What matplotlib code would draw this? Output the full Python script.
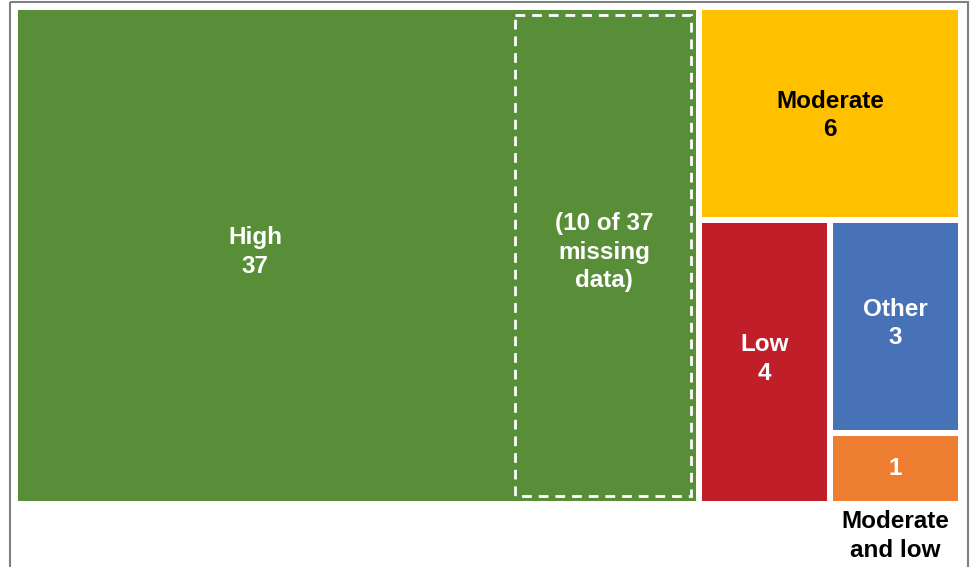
import matplotlib.pyplot as plt
from matplotlib.patches import Rectangle

# data
labels = ["High", "Moderate", "Low", "Other", "Moderate and low"]
values = [37, 6, 4, 3, 1]
colors = ["#588E38", "#FFC000", "#C01F29", "#4872B8", "#ED7D31"]
missing_high = 10

W, H = 972, 567
fig = plt.figure(figsize=(W / 100, H / 100), dpi=100)
ax = fig.add_axes([0, 0, 1, 1])
ax.set_xlim(0, W)
ax.set_ylim(H, 0)
ax.axis("off")

plt.rcParams['font.family'] = ['Liberation Sans', 'DejaVu Sans']

# outer frame
ax.add_patch(Rectangle((10, 2), 958, 600, fill=False, edgecolor="#7f7f7f", lw=1.5))

# treemap bounds (pixels) and gap
x0, x1, y0, y1 = 14, 961, 7, 504
pad = 3
total = sum(values)

# slice-and-dice layout matching the reference arrangement
rects = {}
xs = x0 + (x1 - x0) * values[0] / total - 2
rects["High"] = (x0 + 1, y0, xs, y1)
rest = total - values[0]
ym = y0 + (y1 - y0) * values[1] / rest
rects["Moderate"] = (xs, y0, x1, ym)
rest2 = rest - values[1]
xm = xs + (x1 - xs) * values[2] / rest2
rects["Low"] = (xs, ym, xm, y1)
rest3 = rest2 - values[2]
yo = ym + (y1 - ym) * values[3] / rest3
rects["Other"] = (xm, ym, x1, yo)
rects["Moderate and low"] = (xm, yo, x1, y1)

for lab, c in zip(labels, colors):
    a, b, cc, d = rects[lab]
    ax.add_patch(Rectangle((a + pad, b + pad), cc - a - 2 * pad, d - b - 2 * pad,
                           facecolor=c, edgecolor="none"))

# missing-data portion of "High"
a, b, cc, d = rects["High"]
gw = cc - a - 2 * pad
mx0 = cc - pad - gw * missing_high / values[0]
ax.add_patch(Rectangle((mx0 + 2, b + pad + 5), cc - pad - 5 - mx0 - 2, d - b - 2 * pad - 10,
                       fill=False, edgecolor="white", lw=2, linestyle=(0, (3.5, 2.5))))

fs = 17.5
tk = dict(ha="center", va="center", fontsize=fs, fontweight="bold", linespacing=1.3)
ax.text(a + pad + gw * 0.35, 252, f"High\n{values[0]}", color="white", **tk)
ax.text((mx0 + cc - pad) / 2, 252, f"({missing_high} of {values[0]}\nmissing\ndata)",
        color="white", **tk)

r = rects["Moderate"]
ax.text((r[0] + r[2]) / 2, (r[1] + r[3]) / 2 + 2, f"Moderate\n{values[1]}", color="black", **tk)
r = rects["Low"]
ax.text((r[0] + r[2]) / 2, (r[1] + r[3]) / 2 - 3, f"Low\n{values[2]}", color="white", **tk)
r = rects["Other"]
ax.text((r[0] + r[2]) / 2, (r[1] + r[3]) / 2 - 3, f"Other\n{values[3]}", color="white", **tk)
r = rects["Moderate and low"]
ax.text((r[0] + r[2]) / 2, (r[1] + r[3]) / 2, f"{values[4]}", color="white", **tk)
ax.text((r[0] + r[2]) / 2, 536, "Moderate\nand low", color="black", **tk)

fig.savefig("out.png", dpi=100)
